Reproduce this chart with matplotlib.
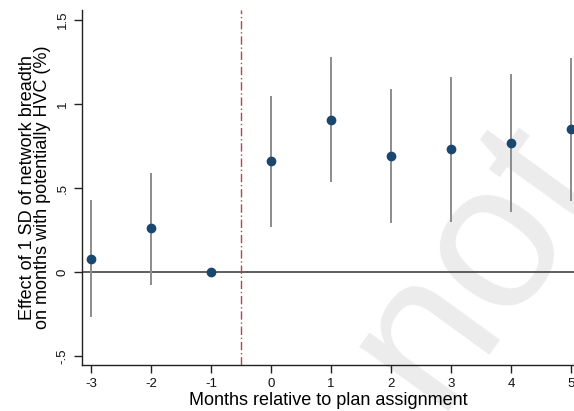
import matplotlib
matplotlib.use("Agg")
import matplotlib.pyplot as plt

months = [-3, -2, -1, 0, 1, 2, 3, 4, 5]
coef = [0.08, 0.26, 0.0, 0.66, 0.905, 0.69, 0.73, 0.77, 0.85]
ci_low = [-0.27, -0.08, 0.0, 0.27, 0.535, 0.29, 0.30, 0.355, 0.42]
ci_high = [0.43, 0.59, 0.0, 1.05, 1.28, 1.09, 1.16, 1.18, 1.275]
yticks = [-0.5, 0, 0.5, 1, 1.5]
yticklabels = ["-.5", "0", ".5", "1", "1.5"]

plt.rcParams['font.family'] = ['Liberation Sans', 'DejaVu Sans']

fig = plt.figure(figsize=(5.74, 4.11), dpi=100)
ax = fig.add_axes([82/574, 1 - 365/411, 1 - 82/574, (365 - 10)/411])

# watermark
fig.text(0.83, 0.36, "not", rotation=54, fontsize=150, color='#ececec',
         ha='center', va='center', zorder=-1)
ax.set_facecolor('none')

ax.axhline(0, color='#333333', lw=1.1, zorder=1)
ax.axvline(-0.5, color='#b04848', lw=1.0, linestyle=(0, (6, 2, 1, 2)), zorder=1)
ax.vlines(months, ci_low, ci_high, color='#8c8c8c', lw=1.4, zorder=2)
ax.plot(months, coef, 'o', color='#1a476f', markersize=6, zorder=3)

ax.set_xlim(-3.15, 5.05)
ax.set_ylim(-0.554, 1.56)
ax.set_xticks(months)
ax.set_xticklabels([str(m) for m in months], fontsize=9.5)
ax.set_yticks(yticks)
ax.set_yticklabels(yticklabels, fontsize=9.5, rotation=90, va='center')
for s in ['top', 'right']:
    ax.spines[s].set_visible(False)
for s in ['left', 'bottom']:
    ax.spines[s].set_color('#222222')
    ax.spines[s].set_linewidth(1.0)
ax.tick_params(length=6, width=1, color='#222222', colors='#111111')
ax.set_xlabel("Months relative to plan assignment", fontsize=13, labelpad=1)
ax.set_ylabel("Effect of 1 SD of network breadth\non months with potentially HVC (%)",
              fontsize=13, labelpad=4, linespacing=0.9)

fig.savefig("out.png", dpi=100)
